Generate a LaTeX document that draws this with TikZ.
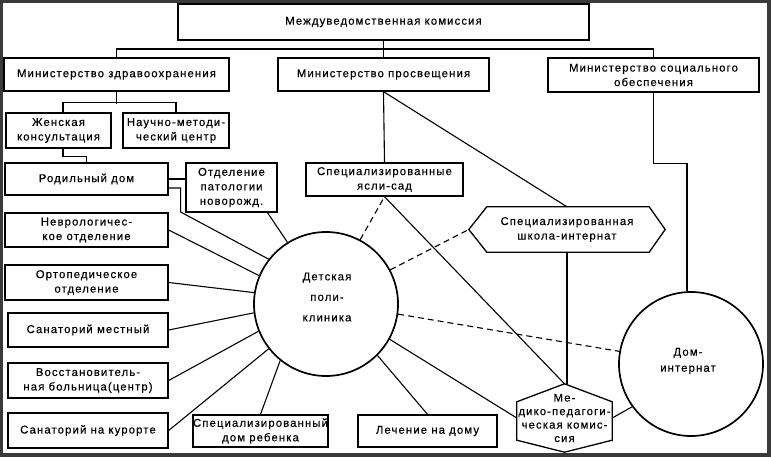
\documentclass[tikz,border=0pt]{standalone}
\usepackage{fontspec}
\setmainfont{Liberation Sans}[LetterSpace=10,FakeBold=0.4]
\newcommand\fs{\fontsize{11.3}{14.5}\selectfont}
\definecolor{framec}{HTML}{3A3A3A}
\begin{document}
\begin{tikzpicture}[x=1pt,y=-1pt,
  box/.style={draw, line width=1.3pt, inner sep=0pt, align=center, font=\fs},
  hexa/.style={inner sep=0pt, align=center, font=\fs},
  ln/.style={line width=1.1pt},
  dsh/.style={line width=1.1pt, dash pattern=on 6pt off 4pt},
  ring/.style={draw, circle, line width=1.7pt, inner sep=0pt, minimum size=144pt},
  hexline/.style={line width=1.3pt, line join=miter}]
\useasboundingbox (0,0) rectangle (771,457);
\fill[framec] (0,0) rectangle (771,457);
\fill[white] (3,3) rectangle (767,453);

% boxes
\node[box, minimum width=411pt, minimum height=36pt] (mvk) at (383.5,22) {Междуведомственная комиссия};
\node[box, minimum width=225pt, minimum height=33pt] (mz) at (116.5,74.5) {Министерство здравоохранения};
\node[box, minimum width=211pt, minimum height=33pt] (mp) at (383.5,74.5) {Министерство просвещения};
\node[box, minimum width=211pt, minimum height=34pt] (ms) at (653.5,75) {Министерство социального\\обеспечения};
\node[box, minimum width=105pt, minimum height=35pt] (zk) at (58.5,130.5) {Женская\\консультация};
\node[box, minimum width=106pt, minimum height=35pt] (nm) at (176,130.5) {Научно-методи-\\ческий центр};
\node[box, minimum width=163pt, minimum height=32pt] (rd) at (86.5,179) {Родильный дом};
\node[box, minimum width=91pt, minimum height=49pt] (op) at (231.5,187.5) {Отделение\\патологии\\новорожд.};
\node[box, minimum width=163pt, minimum height=34pt] (nv) at (86.5,230) {Неврологичес-\\кое отделение};
\node[box, minimum width=163pt, minimum height=35pt] (or) at (86.5,282.5) {Ортопедическое\\отделение};
\node[box, minimum width=160pt, minimum height=34pt] (sm) at (88,330) {Санаторий местный};
\node[box, minimum width=160pt, minimum height=35pt] (vb) at (88,380.5) {Восстановитель-\\ная больница(центр)};
\node[box, minimum width=160pt, minimum height=35pt] (sk) at (88,430.5) {Санаторий на курорте};
\node[box, minimum width=135pt, minimum height=32pt] (dr) at (260.5,431) {Специализированный\\дом ребенка};
\node[box, minimum width=139pt, minimum height=32pt] (ld) at (427.5,431) {Лечение на дому};
\node[box, minimum width=157pt, minimum height=33pt] (ys) at (384.5,179.5) {Специализированные\\ясли-сад};

% hexagons
\node[hexa, minimum width=196pt, minimum height=45pt] (si) at (567,229.5) {Специализированная\\школа-интернат};
\draw[hexline] (si.west) -- ([xshift=18pt]si.north west) -- ([xshift=-16pt]si.north east) -- (si.east)
  -- ([xshift=-16pt]si.south east) -- ([xshift=18pt]si.south west) -- cycle;
\node[hexa, font=\fontsize{11.3}{13.5}\selectfont, minimum width=95pt, minimum height=68pt] (mpk) at (564.5,418) {Ме-\\дико-педагоги-\\ческая комис-\\сия};
\draw[hexline] (mpk.north) -- ([yshift=-18pt]mpk.north east) -- ([yshift=12pt]mpk.south east) -- (mpk.south)
  -- ([yshift=12pt]mpk.south west) -- ([yshift=-18pt]mpk.north west) -- cycle;

% circles
\node[ring] (dp) at (326,304) {};
\node[align=center, font=\fontsize{11.3}{20.5}\selectfont] (dpt) at (327,297) {Детская\\поли-\\клиника};
\node[ring] (di) at (691,364) {};
\node[align=center, font=\fontsize{11.3}{16}\selectfont] (dit) at (688,361) {Дом-\\интернат};

% hierarchy
\coordinate (bus) at (0,49);
\draw[ln] (mvk.south) -- (mp.north);
\draw[ln] (mz.north) |- (bus -| ms.north) -- (ms.north);
\draw[ln] (mz.south) -- ++(0,12);
\draw[ln] ([xshift=4.5pt]zk.north) -- ++(0,-10) -| (nm.north);
\draw[ln] ([xshift=4.5pt]zk.south) -- ++(0,8) -| (rd.north);
\draw[ln] (rd.east) -- (rd.east -| op.west);
\draw[ln] ([yshift=-9pt]rd.east) -- ++(12,0) -- ++(0,24) -- (dp.142);
\draw[ln] ([xshift=36pt]op.south) -- (dp.122);

% spokes
\draw[ln] (nv.east) -- (dp.157);
\draw[ln] (or.east) -- (dp.171);
\draw[ln] (sm.east) -- (dp.187);
\draw[ln] (vb.east) -- (dp.202);
\draw[ln] (sk.east) -- (dp.218);
\draw[ln] (dr.north) -- (dp.231);
\draw[ln] (ld.north) -- (dp.315);
\draw[ln] (dp.331) -- (mpk.west);

% dashed
\draw[dsh] (dp.352) -- (di.170);
\draw[dsh] (dp.28) -- (si.west);
\draw[dsh] (dp.62) -- (ys.south);

% ministry of education
\draw[ln] (mp.south) -- (ys.north);
\draw[ln] (mp.south) -- (si.north);
\draw[ln] (ys.south) -- (mpk.north);
\draw[ln] (si.south) -- (si.south |- mpk.north);
\draw[ln] (mpk.east) -- (di.216);

% ministry of social security
\draw[ln] (ms.south) -- ++(0,71) -| ([xshift=-4pt]di.north);
\end{tikzpicture}
\end{document}
